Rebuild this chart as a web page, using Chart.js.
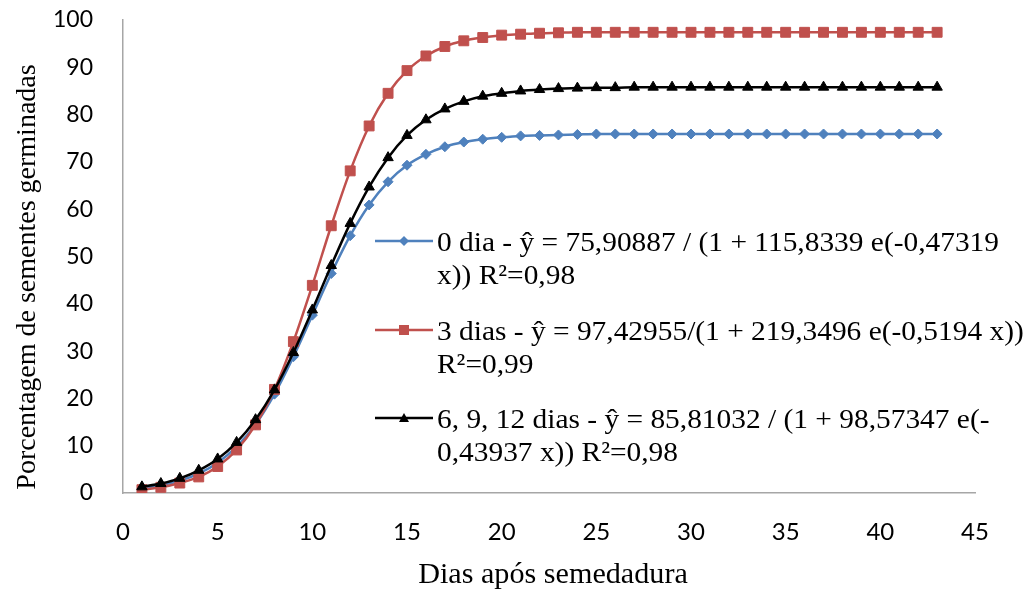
<!DOCTYPE html>
<html>
<head>
<meta charset="utf-8">
<script src="https://cdn.jsdelivr.net/npm/chart.js@4/dist/chart.umd.min.js"></script>
<style>
  html, body { margin: 0; padding: 0; background: #fff; }
  #wrap { position: relative; width: 1033px; height: 595px; }
  #legend { position: absolute; left: 0; top: 0; width: 1033px; height: 595px; pointer-events: none;
            font-family: "Liberation Serif", "Times New Roman", serif; font-size: 28px; line-height: 33px; color: #000; }
  .item { position: absolute; left: 375px; white-space: nowrap; }
  .item svg { position: absolute; left: 0; top: 8px; }
  .item .txt { position: absolute; left: 62px; top: 0; transform: scaleX(1.05); transform-origin: 0 0; }
</style>
</head>
<body>
<div id="wrap">
  <canvas id="c" width="1033" height="595"></canvas>
  <div id="legend"></div>
</div>
<script>
// ---- data ----
const days = [1,2,3,4,5,6,7,8,9,10,11,12,13,14,15,16,17,18,19,20,21,22,23,24,25,26,27,28,29,30,31,32,33,34,35,36,37,38,39,40,41,42,43];

const dia0 = [1.0,1.7,2.6,4.1,6.4,9.8,14.5,20.9,28.8,37.6,46.4,54.4,60.9,65.8,69.3,71.6,73.2,74.2,74.8,75.2,75.5,75.6,75.7,75.8,75.9,75.9,75.9,75.9,75.9,75.9,75.9,75.9,75.9,75.9,75.9,75.9,75.9,75.9,75.9,75.9,75.9,75.9,75.9];

const dias3 = [0.7,1.2,2.1,3.4,5.6,9.1,14.4,21.9,32.0,43.9,56.5,68.1,77.6,84.5,89.3,92.4,94.4,95.6,96.3,96.8,97.0,97.2,97.3,97.4,97.4,97.4,97.4,97.4,97.4,97.4,97.4,97.4,97.4,97.4,97.4,97.4,97.4,97.4,97.4,97.4,97.4,97.4,97.4];

const dias6912 = [1.3,2.0,3.1,4.8,7.2,10.7,15.5,21.8,29.7,38.7,48.1,57.0,64.7,70.9,75.6,78.9,81.2,82.8,83.9,84.5,85.0,85.3,85.5,85.6,85.7,85.7,85.8,85.8,85.8,85.8,85.8,85.8,85.8,85.8,85.8,85.8,85.8,85.8,85.8,85.8,85.8,85.8,85.8];

const seriesNames = [
  ["0 dia - ŷ = 75,90887 / (1 + 115,8339 e(-0,47319", "x)) R²=0,98"],
  ["3 dias - ŷ = 97,42955/(1 + 219,3496 e(-0,5194 x))", "R²=0,99"],
  ["6, 9, 12 dias - ŷ = 85,81032 / (1 + 98,57347 e(-", "0,43937 x)) R²=0,98"]
];
const xTitle = "Dias após semedadura";
const yTitle = "Porcentagem de sementes germinadas";

// ---- styles ----
const colors = ["#4F81BD", "#C0504D", "#000000"];
const pts = (arr) => days.map((d, i) => ({ x: d, y: arr[i] }));

const titlePlugin = {
  id: 'axisTitles',
  afterDraw(chart) {
    const ctx = chart.ctx;
    ctx.save();
    ctx.fillStyle = '#000';
    ctx.textAlign = 'center';
    ctx.textBaseline = 'middle';
    ctx.font = '29px "Liberation Serif"';
    ctx.save();
    ctx.translate(553, 575);
    ctx.scale(1.04, 1);
    ctx.fillText(xTitle, 0, 0);
    ctx.restore();
    ctx.translate(28, 277);
    ctx.rotate(-Math.PI / 2);
    ctx.font = '28px "Liberation Serif"';
    ctx.fillText(yTitle, 0, 0);
    ctx.restore();
  }
};

const ds = (label, arr, color, style, radius, order) => ({
  label, data: pts(arr), borderColor: color, backgroundColor: color,
  borderWidth: 2.5, pointStyle: style, pointRadius: radius, pointHoverRadius: radius,
  pointBorderWidth: 1, pointBorderColor: color, pointBackgroundColor: color,
  cubicInterpolationMode: 'monotone', fill: false, order
});

new Chart(document.getElementById('c'), {
  type: 'line',
  data: {
    datasets: [
      ds(seriesNames[0].join(' '), dia0, colors[0], 'rectRot', 5, 2),
      ds(seriesNames[1].join(' '), dias3, colors[1], 'rect', 7, 1),
      ds(seriesNames[2].join(' '), dias6912, colors[2], 'triangle', 6, 0)
    ]
  },
  options: {
    responsive: false,
    animation: false,
    layout: { padding: { top: 20, right: 58, left: 0, bottom: 0 } },
    plugins: { legend: { display: false }, tooltip: { enabled: false } },
    scales: {
      x: {
        type: 'linear', min: 0, max: 45,
        ticks: { stepSize: 5, color: '#000', font: { family: 'Lato', size: 24 }, padding: 25, maxRotation: 0 },
        grid: { display: false, drawTicks: false },
        border: { display: true, color: '#A6A6A6', width: 1.5 },
        afterFit: (s) => { s.height = 102; }
      },
      y: {
        min: 0, max: 100,
        ticks: { stepSize: 10, color: '#000', font: { family: 'Lato', size: 23 }, padding: 30 },
        grid: { display: false, drawTicks: false },
        border: { display: true, color: '#A6A6A6', width: 1.5 },
        afterFit: (s) => { s.width = 123; s.paddingTop = 0; s.paddingBottom = 0; }
      }
    }
  },
  plugins: [titlePlugin]
});

// ---- HTML legend ----
const markerSvg = (i) => {
  const c = colors[i];
  let m = '';
  if (i === 0) m = `<polygon points="29,3 34,8 29,13 24,8" fill="${c}"/>`;
  if (i === 1) m = `<rect x="24" y="3" width="10" height="10" fill="${c}"/>`;
  if (i === 2) m = `<polygon points="29,3 34,12 24,12" fill="${c}"/>`;
  return `<svg width="58" height="16"><line x1="0" y1="8" x2="58" y2="8" stroke="${c}" stroke-width="2.5"/>${m}</svg>`;
};
const tops = [225, 314, 402];
const leg = document.getElementById('legend');
seriesNames.forEach((lines, i) => {
  const d = document.createElement('div');
  d.className = 'item';
  d.style.top = tops[i] + 'px';
  d.innerHTML = markerSvg(i) + `<div class="txt">${lines.join('<br>')}</div>`;
  leg.appendChild(d);
});
</script>
</body>
</html>
